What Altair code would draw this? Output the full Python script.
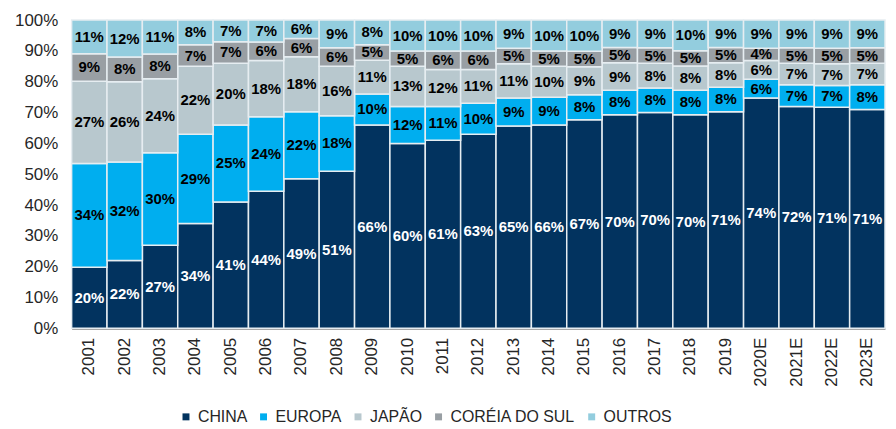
import altair as alt
import pandas as pd

years = ["2001", "2002", "2003", "2004", "2005", "2006", "2007", "2008", "2009", "2010",
         "2011", "2012", "2013", "2014", "2015", "2016", "2017", "2018", "2019",
         "2020E", "2021E", "2022E", "2023E"]
china = [20, 22, 27, 34, 41, 44, 49, 51, 66, 60, 61, 63, 65, 66, 67, 70, 70, 70, 71, 74, 72, 71, 71]
europa = [34, 32, 30, 29, 25, 24, 22, 18, 10, 12, 11, 10, 9, 9, 8, 8, 8, 8, 8, 6, 7, 7, 8]
japao = [27, 26, 24, 22, 20, 18, 18, 16, 11, 13, 12, 11, 11, 10, 9, 9, 8, 8, 8, 6, 7, 7, 7]
coreia = [9, 8, 8, 7, 7, 6, 6, 6, 5, 5, 6, 6, 5, 5, 5, 5, 5, 5, 5, 4, 5, 5, 5]
outros = [11, 12, 11, 8, 7, 7, 6, 9, 8, 10, 10, 10, 9, 10, 10, 9, 9, 10, 9, 9, 9, 9, 9]
y_ticks = [0, 0.1, 0.2, 0.3, 0.4, 0.5, 0.6, 0.7, 0.8, 0.9, 1.0]

series = ["CHINA", "EUROPA", "JAPÃO", "CORÉIA DO SUL", "OUTROS"]
colors = ["#02335F", "#00AEEF", "#B8C8CE", "#999FA4", "#93CDDE"]
label_colors = ["#FFFFFF", "#000000", "#000000", "#000000", "#000000"]

rows = []
for si, (name, vals) in enumerate(zip(series, [china, europa, japao, coreia, outros])):
    for y, v in zip(years, vals):
        rows.append({"year": y, "serie": name, "value": v, "order": si,
                     "label": f"{v}%", "lc": label_colors[si]})
df = pd.DataFrame(rows)

base = alt.Chart(df).transform_stack(
    stack="value", groupby=["year"], sort=[{"field": "order", "order": "ascending"}],
    as_=["y0", "y1"], offset="normalize"
).transform_calculate(mid="(datum.y0 + datum.y1) / 2")


def x_axis():
    return alt.Axis(labelAngle=270, labelFontSize=17, labelColor="#262626",
                    labelFont="Liberation Sans", ticks=False, domainColor="#8A8A8A",
                    domainWidth=2, labelPadding=9)


def y_axis():
    return alt.Axis(values=y_ticks, format=".0%", labelFontSize=17, labelColor="#262626",
                    labelFont="Liberation Sans", ticks=False, grid=False,
                    labelOverlap=False, domainColor="#8A8A8A", domainWidth=2,
                    labelPadding=14)


bars = base.mark_bar(stroke="#E6EDF1", strokeWidth=1.5).encode(
    x=alt.X("year:N", sort=years, title=None,
            scale=alt.Scale(paddingInner=0, paddingOuter=0), axis=x_axis()),
    y=alt.Y("y0:Q", title=None, scale=alt.Scale(domain=[0, 1]), axis=y_axis()),
    y2="y1:Q",
    color=alt.Color("serie:N", scale=alt.Scale(domain=series, range=colors),
                    sort=series,
                    legend=alt.Legend(title=None, orient="none", direction="horizontal",
                                      legendX=107, legendY=391, symbolType="square",
                                      symbolSize=49, labelFontSize=16, labelColor="#262626",
                                      labelFont="Liberation Sans", columnPadding=8,
                                      labelOffset=4, symbolStrokeWidth=0)),
)

texts = base.mark_text(font="Liberation Sans", fontSize=15,
                       fontWeight="bold", align="center", baseline="middle").encode(
    x=alt.X("year:N", sort=years, title=None, axis=x_axis()),
    y=alt.Y("mid:Q", title=None, axis=y_axis()),
    text="label:N",
    color=alt.Color("lc:N", scale=None),
)

chart = alt.layer(bars, texts).properties(
    width=818, height=310,
    autosize=alt.AutoSizeParams(type="none"),
    padding={"left": 64, "top": 11, "right": 3, "bottom": 96},
).configure_view(stroke=None).configure_axis(grid=False, labelOverlap=False)

chart.save("out.html", embed_options={"renderer": "svg", "actions": False})
